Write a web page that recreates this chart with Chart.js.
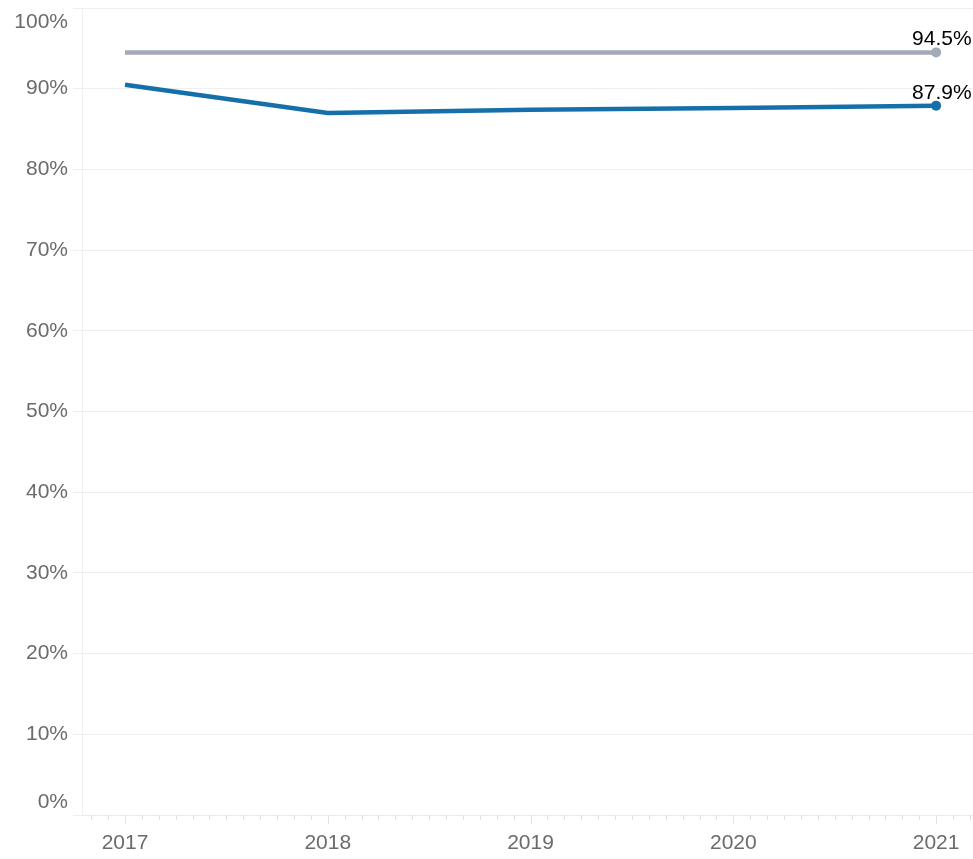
<!DOCTYPE html>
<html>
<head>
<meta charset="utf-8">
<script src="https://cdn.jsdelivr.net/npm/chart.js@4.4.1/dist/chart.umd.min.js"></script>
<style>
  html, body { margin: 0; padding: 0; background: #fff; }
  #wrap { width: 973px; height: 859px; }
</style>
</head>
<body>
<div id="wrap"><canvas id="rateChart"></canvas></div>
<script>
// yearly rates, in percent
const years = [2017, 2018, 2019, 2020, 2021];
const benchmarkRate = [94.5, 94.5, 94.5, 94.5, 94.5];
const actualRate = [90.5, 87.0, 87.4, 87.6, 87.9];
const yTicks = [0, 10, 20, 30, 40, 50, 60, 70, 80, 90, 100];

const FONT = '"Liberation Sans", Arial, sans-serif';
const TICK_COLOR = '#6b6b6b';

// y labels are drawn by hand so the end ones can sit inside the plot
const yLabels = {
    id: 'yLabels',
    afterDraw(chart) {
        const ctx = chart.ctx;
        const y = chart.scales.y;
        const area = chart.chartArea;
        ctx.save();
        ctx.font = '21px ' + FONT;
        ctx.fillStyle = TICK_COLOR;
        ctx.textAlign = 'right';
        ctx.textBaseline = 'middle';
        yTicks.forEach(function (v) {
            let py = y.getPixelForValue(v);
            py = Math.min(Math.max(py, area.top + 14), area.bottom - 13);
            ctx.fillText(v + '%', 68, py);
        });
        ctx.restore();
    }
};

// monthly minor ticks under the x axis, longer ones at each year
const monthTicks = {
    id: 'monthTicks',
    afterDraw(chart) {
        const ctx = chart.ctx;
        const x = chart.scales.x;
        const base = chart.chartArea.bottom;
        ctx.save();
        ctx.strokeStyle = '#e2e2e2';
        ctx.lineWidth = 1;
        for (let yr = 2016; yr <= 2021; yr++) {
            for (let m = 0; m < 12; m++) {
                const v = yr + m / 12;
                if (v < x.min || v > x.max) continue;
                const px = Math.round(x.getPixelForValue(v)) + 0.5;
                ctx.beginPath();
                ctx.moveTo(px, base);
                ctx.lineTo(px, base + (m === 0 ? 9 : 5));
                ctx.stroke();
            }
        }
        ctx.restore();
    }
};

// value labels on the last point of each line
const endLabels = {
    id: 'endLabels',
    afterDatasetsDraw(chart) {
        const ctx = chart.ctx;
        ctx.save();
        ctx.font = '21px ' + FONT;
        ctx.fillStyle = '#000';
        ctx.textAlign = 'left';
        ctx.textBaseline = 'alphabetic';
        chart.data.datasets.forEach(function (ds, i) {
            const last = ds.data.length - 1;
            const pt = chart.getDatasetMeta(i).data[last];
            ctx.fillText(ds.data[last].y.toFixed(1) + '%', pt.x - 24, pt.y - 7);
        });
        ctx.restore();
    }
};

const toPoints = (vals) => vals.map((v, i) => ({ x: years[i], y: v }));
const lastOnly = years.map((_, i) => i === years.length - 1 ? 5 : 0);

new Chart(document.getElementById('rateChart'), {
    type: 'line',
    data: {
        datasets: [{
            label: 'Benchmark',
            data: toPoints(benchmarkRate),
            borderColor: '#a3abb7',
            backgroundColor: '#a3abb7',
            borderWidth: 4.5,
            pointRadius: lastOnly,
            pointBorderWidth: 0,
            tension: 0
        }, {
            label: 'Rate',
            data: toPoints(actualRate),
            borderColor: '#1570aa',
            backgroundColor: '#1570aa',
            borderWidth: 4.5,
            pointRadius: lastOnly,
            pointBorderWidth: 0,
            tension: 0
        }]
    },
    options: {
        responsive: true,
        maintainAspectRatio: false,
        animation: false,
        layout: { autoPadding: false, padding: { top: 8, right: 0, bottom: 0, left: 0 } },
        scales: {
            x: {
                type: 'linear',
                min: 2016.788,
                max: 2021.182,
                afterBuildTicks: function (scale) {
                    scale.ticks = years.map(v => ({ value: v }));
                },
                afterFit: function (scale) {
                    scale.height = 44;
                    scale.paddingLeft = 0;
                    scale.paddingRight = 0;
                },
                grid: { display: false, drawTicks: false },
                border: { display: true, color: '#ececec' },
                ticks: {
                    padding: 16,
                    color: TICK_COLOR,
                    font: { family: FONT, size: 21 },
                    maxRotation: 0,
                    callback: v => String(v)
                }
            },
            y: {
                min: 0,
                max: 100,
                afterBuildTicks: function (scale) {
                    scale.ticks = yTicks.map(v => ({ value: v }));
                },
                afterFit: function (scale) {
                    scale.width = 82;
                    scale.paddingTop = 0;
                    scale.paddingBottom = 0;
                },
                grid: { color: '#efefef', tickLength: 9, drawTicks: true },
                border: { display: true, color: '#f0f0f0' },
                ticks: { display: false }
            }
        },
        plugins: {
            legend: { display: false },
            tooltip: { enabled: false }
        }
    },
    plugins: [yLabels, monthTicks, endLabels]
});
</script>
</body>
</html>
